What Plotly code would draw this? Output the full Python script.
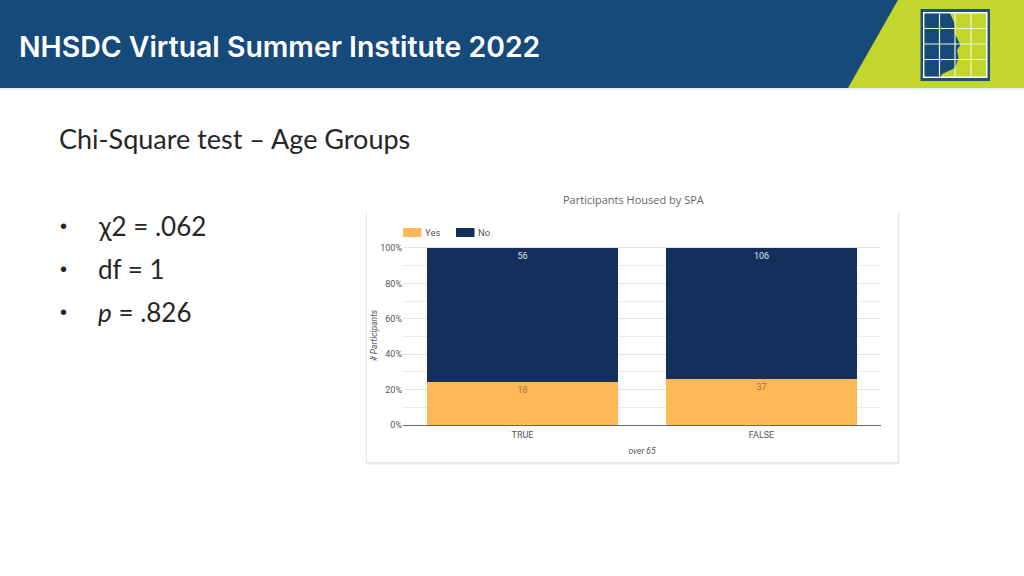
import plotly.graph_objects as go

categories = ["TRUE", "FALSE"]
yes_counts = [18, 37]
no_counts = [56, 106]
series_names = ["Yes", "No"]
series_colors = ["#FDB857", "#142F5C"]
bullets = ["χ2 = .062", "df = 1", "<i>p</i> = .826"]

W, H = 1024, 576
def px(x): return x / W
def py(y): return 1 - y / H

fig = go.Figure()
fig.add_trace(go.Bar(x=categories, y=yes_counts, name=series_names[0],
                     marker=dict(color=series_colors[0], line=dict(width=0)),
                     text=yes_counts, textposition="inside", insidetextanchor="end",
                     textangle=0, constraintext="none",
                     textfont=dict(color="#9a7a45", size=9, family="Roboto")))
fig.add_trace(go.Bar(x=categories, y=no_counts, name=series_names[1],
                     marker=dict(color=series_colors[1], line=dict(width=0)),
                     text=no_counts, textposition="inside", insidetextanchor="end",
                     textangle=0, constraintext="none",
                     textfont=dict(color="#dfe6ee", size=9, family="Roboto")))

shapes = []
def rect(x0, y0, x1, y1, fill, line=None, lw=0, layer="below"):
    shapes.append(dict(type="rect", xref="paper", yref="paper", x0=px(x0), y0=py(y0), x1=px(x1), y1=py(y1),
                       fillcolor=fill, line=dict(color=line or fill, width=lw), layer=layer))
def poly(points, fill, layer="below"):
    d = "M " + " L ".join(f"{px(a):.5f},{py(b):.5f}" for a, b in points) + " Z"
    shapes.append(dict(type="path", xref="paper", yref="paper", path=d, fillcolor=fill,
                       line=dict(width=0), layer=layer))
def seg(x0, y0, x1, y1, color, lw):
    shapes.append(dict(type="line", xref="paper", yref="paper", x0=px(x0), y0=py(y0), x1=px(x1), y1=py(y1),
                       line=dict(color=color, width=lw), layer="below"))

# banner
rect(0, 0, 1024, 88, "#164A7B")
rect(0, 88, 1024, 90, "#EAF3F8")
poly([(898, 0), (1024, 0), (1024, 88), (848, 88)], "#C3D62E")
# logo
rect(920.5, 9, 990, 81, "#1D5272")
rect(923, 12, 987.5, 78, "#FFFFFF")
rect(924.5, 13.5, 986, 76.5, "#C3D62E")
poly([(924.5, 13.5), (950, 13.5), (955, 24), (955, 34), (960.5, 45), (957, 50), (958.5, 58),
      (955, 68), (942, 74), (941, 76.5), (924.5, 76.5)], "#164A7B")
for gx in (939.5, 955, 971):
    seg(gx, 13.5, gx, 76.5, "#F2F6D0", 1.2)
for gy in (28.5, 44, 59.5):
    seg(924.5, gy, 986, gy, "#F2F6D0", 1.2)

# chart card with soft shadow
for off, col in ((3, "#F4F4F4"), (2, "#ECECEC"), (1, "#E3E3E3")):
    rect(367 - off / 2, 212, 898 + off / 2, 462 + off, col)
rect(367, 212, 898, 462, "#FFFFFF")

# legend swatches
rect(403, 228, 421.5, 237, series_colors[0])
rect(456, 228, 474.5, 237, series_colors[1])

def label(x, y, text, size, color, family, anchor="left", weight=None):
    f = dict(size=size, color=color, family=family)
    if weight:
        f["weight"] = weight
    return dict(x=px(x - 2 if anchor == "left" else x), y=py(y), xref="paper", yref="paper", text=text,
                showarrow=False, xanchor=anchor, yanchor="middle", font=f)

annotations = [
    label(19, 47, "NHSDC Virtual Summer Institute 2022", 28.4, "#FFFFFF", "Inter", weight=600),
    label(59, 138, "Chi-Square test – Age Groups", 27, "#262626", "Lato"),
    label(633, 199, "Participants Housed by SPA", 11, "#666666", "Open Sans", "center"),
    label(425, 232.5, series_names[0], 9.5, "#555555", "Roboto"),
    label(478, 232.5, series_names[1], 9.5, "#555555", "Roboto"),
]
for yy, txt in zip((225.5, 269, 311.5), bullets):
    annotations.append(label(60, yy, "•", 20, "#262626", "Liberation Sans"))
    annotations.append(label(98, yy, txt, 26, "#262626", "Lato"))

fig.update_layout(
    width=W, height=H, margin=dict(l=0, r=0, t=0, b=0),
    paper_bgcolor="#FFFFFF", plot_bgcolor="rgba(0,0,0,0)",
    barmode="stack", barnorm="percent", bargap=0.2, showlegend=False,
    shapes=shapes, annotations=annotations,
    xaxis=dict(domain=[px(403), px(881)], anchor="y", automargin=False, showgrid=False, zeroline=False,
               showline=False, ticks="", ticklabelstandoff=3, tickfont=dict(size=9, color="#555555", family="Roboto"),
               title=dict(text="<i>over 65</i>", font=dict(size=8.5, color="#555555", family="Roboto"), standoff=9)),
    yaxis=dict(domain=[py(425), py(246.2)], anchor="x", automargin=False, range=[0, 101], tick0=0, dtick=20, ticksuffix="%",
               showgrid=True, gridcolor="#E4E4E4", gridwidth=1.2,
               minor=dict(dtick=10, showgrid=True, gridcolor="#EBEBEB", gridwidth=1.2, ticks=""),
               zeroline=True, zerolinecolor="#666666", zerolinewidth=1.3,
               ticks="", showline=False,
               tickfont=dict(size=9, color="#555555", family="Roboto"),
               title=dict(text="<i># Participants</i>", font=dict(size=8.5, color="#555555", family="Roboto"), standoff=1)),
)

fig.write_html("out.html", config=dict(displayModeBar=False), post_script="document.body.style.margin='0';")
